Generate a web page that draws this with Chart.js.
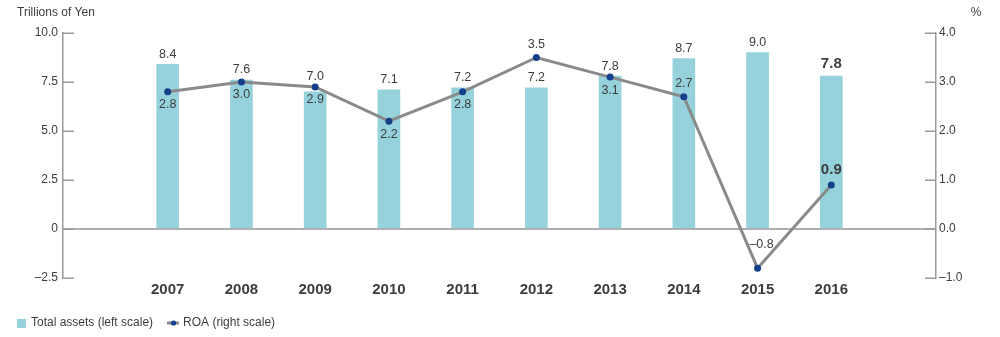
<!DOCTYPE html>
<html>
<head>
<meta charset="utf-8">
<script src="https://cdn.jsdelivr.net/npm/chart.js@4"></script>
<style>
  html, body { margin: 0; padding: 0; background: #ffffff; }
  #wrap { position: relative; width: 1000px; height: 337px; }
  canvas { display: block; }
</style>
</head>
<body>
<div id="wrap"><canvas id="c" width="1000" height="337"></canvas></div>
<script>
// ---- data ----
const years = ['2007', '2008', '2009', '2010', '2011', '2012', '2013', '2014', '2015', '2016'];
const totalAssets = [8.4, 7.6, 7.0, 7.1, 7.2, 7.2, 7.8, 8.7, 9.0, 7.8];
const roa = [2.8, 3.0, 2.9, 2.2, 2.8, 3.5, 3.1, 2.7, -0.8, 0.9];
const seriesNames = ['Total assets (left scale)', 'ROA (right scale)'];
const leftTicks = [-2.5, 0, 2.5, 5.0, 7.5, 10.0];
const rightTicks = [-1.0, 0.0, 1.0, 2.0, 3.0, 4.0];
const leftTitle = 'Trillions of Yen';
const rightTitle = '%';

// ---- styles (kept apart from data) ----
const roaLabelPlacement = ['below', 'below', 'below', 'below', 'below', 'above', 'below', 'above', 'aboveRight', 'above'];
const FONT = "'Liberation Sans', Arial, Helvetica, sans-serif";
const TEXT = '#3d3d3d';
const BAR = '#95d2dc';
const LINE = '#8a8a8a';
const POINT = '#143f8a';
const AXIS = '#9a9a9a';

Chart.defaults.font.family = FONT;
Chart.defaults.color = TEXT;

function fmt(v) {
  const s = Math.abs(v).toFixed(1);
  return v < 0 ? '\u2013' + s : s;
}

// legend swatches
const swBar = document.createElement('canvas');
swBar.width = 9; swBar.height = 9;
(function () { const g = swBar.getContext('2d'); g.fillStyle = BAR; g.fillRect(0, 0, 9, 9); })();
const swLine = document.createElement('canvas');
swLine.width = 12; swLine.height = 6;
(function () {
  const g = swLine.getContext('2d');
  g.fillStyle = LINE; g.fillRect(0, 1.5, 12, 3);
  g.fillStyle = POINT; g.beginPath(); g.arc(6.5, 3, 2.6, 0, Math.PI * 2); g.fill();
})();

const innerTicks = {
  id: 'innerTicks',
  afterDraw(chart) {
    const { ctx, chartArea, scales } = chart;
    ctx.save();
    ctx.strokeStyle = AXIS;
    ctx.lineWidth = 1.5;
    scales.y.ticks.forEach(t => {
      const y = Math.round(scales.y.getPixelForValue(t.value)) + 0.25;
      ctx.beginPath(); ctx.moveTo(chartArea.left, y); ctx.lineTo(chartArea.left + 11, y); ctx.stroke();
    });
    scales.y1.ticks.forEach(t => {
      const y = Math.round(scales.y1.getPixelForValue(t.value)) + 0.25;
      ctx.beginPath(); ctx.moveTo(chartArea.right - 11, y); ctx.lineTo(chartArea.right, y); ctx.stroke();
    });
    ctx.restore();
  }
};

const axisTitles = {
  id: 'axisTitles',
  afterDraw(chart) {
    const ctx = chart.ctx;
    ctx.save();
    ctx.fillStyle = TEXT;
    ctx.font = '12px ' + FONT;
    ctx.textBaseline = 'middle';
    ctx.textAlign = 'left';
    ctx.fillText(leftTitle, 17, 13);
    ctx.textAlign = 'center';
    ctx.fillText(rightTitle, 976, 13);
    ctx.restore();
  }
};

const valueLabels = {
  id: 'valueLabels',
  afterDatasetsDraw(chart) {
    const ctx = chart.ctx;
    const barMeta = chart.getDatasetMeta(0);
    const lineMeta = chart.getDatasetMeta(1);
    ctx.save();
    ctx.fillStyle = TEXT;
    ctx.textAlign = 'center';
    ctx.textBaseline = 'middle';
    barMeta.data.forEach((bar, i) => {
      const pt = lineMeta.data[i];
      const last = i === years.length - 1;
      ctx.font = last ? 'bold 15px ' + FONT : '12.5px ' + FONT;
      let anchor = bar.y;
      if (pt.y < bar.y && bar.y - pt.y < 12) anchor = pt.y;
      ctx.fillText(fmt(totalAssets[i]), bar.x, anchor - (last ? 12 : 10));
      let dx = 0, dy = 13;
      const p = roaLabelPlacement[i];
      if (p === 'above') dy = last ? -15 : -13;
      if (p === 'aboveRight') { dx = 4; dy = -24; }
      ctx.fillText(fmt(roa[i]), pt.x + dx, pt.y + dy);
    });
    ctx.restore();
  }
};

new Chart(document.getElementById('c'), {
  type: 'bar',
  data: {
    datasets: [
      {
        type: 'bar',
        label: seriesNames[0],
        data: totalAssets.map((v, i) => ({ x: i, y: v })),
        backgroundColor: BAR,
        borderWidth: 0,
        barThickness: 22,
        xAxisID: 'x',
        yAxisID: 'y',
        order: 2
      },
      {
        type: 'line',
        label: seriesNames[1],
        data: roa.map((v, i) => ({ x: i, y: v })),
        borderColor: LINE,
        borderWidth: 3,
        pointRadius: 3.5,
        pointBackgroundColor: POINT,
        pointBorderColor: POINT,
        pointBorderWidth: 0,
        tension: 0,
        xAxisID: 'x',
        yAxisID: 'y1',
        order: 1
      }
    ]
  },
  options: {
    responsive: false,
    animation: false,
    layout: { padding: { top: 33, left: 1, right: 0, bottom: -2 } },
    plugins: {
      tooltip: { enabled: false },
      legend: {
        position: 'bottom',
        align: 'start',
        labels: {
          usePointStyle: true,
          boxWidth: 8,
          boxHeight: 8,
          padding: 16,
          color: TEXT,
          font: { size: 12, family: FONT },
          generateLabels() {
            return [
              { text: seriesNames[0], pointStyle: swBar, fillStyle: BAR, strokeStyle: BAR, lineWidth: 0, hidden: false, datasetIndex: 0, fontColor: TEXT },
              { text: seriesNames[1], pointStyle: swLine, fillStyle: POINT, strokeStyle: LINE, lineWidth: 0, hidden: false, datasetIndex: 1, fontColor: TEXT }
            ];
          }
        }
      }
    },
    scales: {
      x: {
        type: 'linear',
        offset: false,
        min: -1.42,
        max: years.length - 1 + 1.42,
        afterFit(s) { s.height = 23; },
        grid: { display: false, drawTicks: false },
        border: { display: false },
        ticks: {
          stepSize: 1,
          autoSkip: false,
          maxRotation: 0,
          padding: 3,
          color: TEXT,
          font: { size: 15, weight: 'bold' },
          callback(v) { return Number.isInteger(v) && years[v] !== undefined ? years[v] : ''; }
        }
      },
      y: {
        position: 'left',
        min: leftTicks[0],
        max: leftTicks[leftTicks.length - 1],
        afterFit(s) { s.width = 62; },
        afterBuildTicks(s) { s.ticks = leftTicks.map(v => ({ value: v })); },
        z: 1,
        grid: {
          drawTicks: false,
          color: c => (c.tick && c.tick.value === 0 ? 'rgba(130,130,130,0.65)' : 'rgba(0,0,0,0)'),
          lineWidth: 2
        },
        border: { display: true, color: AXIS, width: 1.5 },
        ticks: {
          padding: 5,
          color: TEXT,
          font: { size: 12 },
          callback(v) { return v === 0 ? '0' : fmt(v); }
        }
      },
      y1: {
        position: 'right',
        min: rightTicks[0],
        max: rightTicks[rightTicks.length - 1],
        afterFit(s) { s.width = 64; },
        afterBuildTicks(s) { s.ticks = rightTicks.map(v => ({ value: v })); },
        grid: { display: false, drawTicks: false },
        border: { display: true, color: AXIS, width: 1.5 },
        ticks: {
          padding: 3,
          color: TEXT,
          font: { size: 12 },
          callback(v) { return fmt(v); }
        }
      }
    }
  },
  plugins: [innerTicks, axisTitles, valueLabels]
});
</script>
</body>
</html>
